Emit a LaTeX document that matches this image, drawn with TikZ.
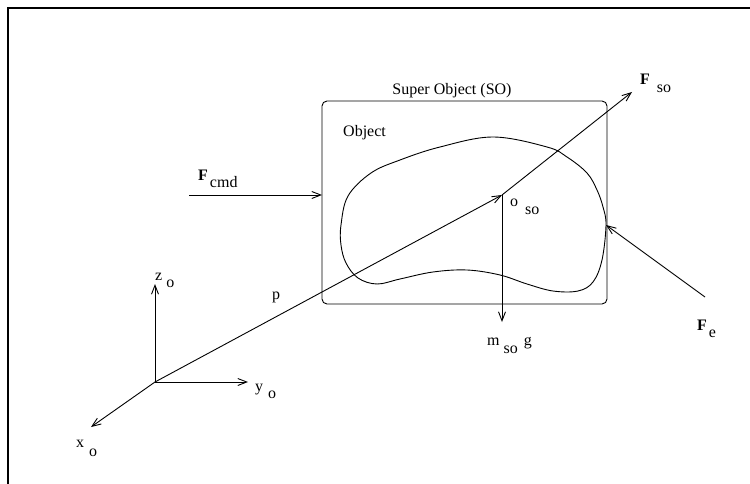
\documentclass[tikz,border=0pt]{standalone}
\usepackage{fontspec}
\setmainfont{Liberation Serif}
\usetikzlibrary{arrows.meta}
\begin{document}
\begin{tikzpicture}[x=1pt,y=-1pt,
  ln/.style={line width=0.9pt},
  arr/.style={ln,-{Straight Barb[length=9pt,width=7pt,line width=0.9pt]}},
  lbl/.style={anchor=base west,inner sep=0pt,font=\fontsize{16}{19}\selectfont}]
\useasboundingbox (0,0) rectangle (750,484);
% frame
\draw[line width=1.2pt] (8,484) -- (8,8) -- (750,8);
% coordinates
\coordinate (O) at (155,382);
\coordinate (zt) at (155,284);
\coordinate (yt) at (248,382);
\coordinate (xt) at (91,427);
\coordinate (oso) at (502,195);
\coordinate (fso) at (632,92);
\coordinate (mg) at (502,322);
\coordinate (fcs) at (189,195);
\coordinate (fce) at (322,195);
\coordinate (fes) at (705,297);
\coordinate (fee) at (606,225);
% super object box
\node[draw,ln,rounded corners=5pt,minimum width=285pt,minimum height=203pt,inner sep=0pt] (SO) at (464.5,202.5) {};
% object blob
\draw[ln] plot[smooth cycle,tension=0.6] coordinates {
 (341,225) (348,196) (371,173) (400,160) (440,147) (493,137)
 (547,147) (567,157) (587,173) (597,190) (603,207) (606,225)
 (602,260) (593,282) (578,291) (553,291) (527,284) (500,275)
 (467,270) (433,272) (400,279) (377,284) (358,278) (346,263) (341,245)};
% axes
\draw[arr] (O) -- (zt);
\draw[arr] (O) -- (yt);
\draw[arr] (O) -- (xt);
% vectors
\draw[arr] (O) -- (oso);
\draw[arr] (oso) -- (fso);
\draw[arr] (oso) -- (mg);
\draw[arr] (fcs) -- (fce);
\draw[arr] (fes) -- (fee);
% labels
\node[lbl] (lz) at (155,280) {z\hspace{4pt}\raisebox{-7pt}{o}};
\node[lbl] (ly) at (255,391) {y\hspace{5pt}\raisebox{-7pt}{o}};
\node[lbl] (lp) at (272,299) {p};
\node[lbl] (lx) at (76,447) {x\hspace{5pt}\raisebox{-9pt}{o}};
\node[lbl] (lfc) at (198,180) {\textbf{F}\hspace{2pt}\raisebox{-7pt}{cmd}};
\node[lbl] (lso) at (452,95) [anchor=base] {Super Object (SO)};
\node[lbl] (lob) at (343,137) {Object};
\node[lbl] (lfs) at (640,85) {\textbf{F}\hspace{7pt}\raisebox{-8pt}{so}};
\node[lbl] (loso) at (510,206) {o\hspace{7pt}\raisebox{-9pt}{so}};
\node[lbl] (lmg) at (487,345) {m\hspace{4pt}\raisebox{-8pt}{so}\hspace{6pt}g};
\node[lbl] (lfe) at (697,330) {\textbf{F}\hspace{2pt}\raisebox{-7pt}{e}};
\end{tikzpicture}
\end{document}
